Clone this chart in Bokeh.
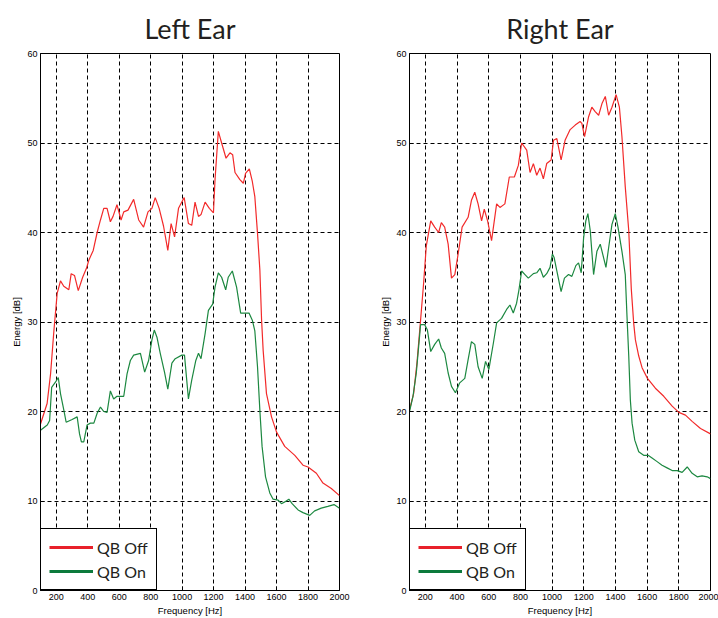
from bokeh.plotting import figure
from bokeh.layouts import row
from bokeh.models import FixedTicker, Legend, LegendItem, Range1d
from bokeh.embed import file_html
from bokeh.resources import INLINE

# ---------------- data ----------------
left_off_freq = [100, 142, 164, 185, 206, 227, 248, 280, 295, 316, 340, 368, 392, 407, 435, 460, 481, 502, 523, 544,
                 561, 586, 612, 629, 656, 692, 724, 755, 783, 808, 829, 854, 882, 909, 930, 952, 977, 1013, 1040, 1061,
                 1082, 1104, 1120, 1146, 1173, 1199, 1209, 1230, 1251, 1279, 1304, 1321, 1336, 1367, 1389, 1403, 1427,
                 1446, 1462, 1479, 1494, 1505, 1515, 1536, 1568, 1600, 1652, 1716, 1768, 1800, 1853, 1895, 1948, 2000]
left_off_db = [18.6, 20.9, 24.2, 29.0, 33.2, 34.6, 34.0, 33.6, 35.4, 35.2, 33.5, 35.0, 36.0, 36.9, 38.0, 40.0, 41.4,
               42.7, 42.7, 41.2, 41.8, 43.1, 41.4, 42.3, 42.5, 43.7, 41.4, 40.6, 42.3, 42.7, 43.9, 42.7, 40.7, 38.0,
               41.0, 39.5, 42.7, 43.9, 41.0, 40.8, 43.4, 41.8, 42.0, 43.4, 42.7, 42.2, 45.9, 51.3, 50.0, 48.3, 48.9,
               48.7, 46.7, 45.9, 45.5, 46.6, 47.1, 45.7, 44.0, 39.9, 35.8, 30.2, 26.8, 22.0, 19.4, 17.7, 16.1, 15.1,
               14.0, 13.8, 13.1, 12.0, 11.4, 10.6]

left_on_freq = [100, 143, 158, 171, 196, 213, 227, 249, 263, 301, 333, 348, 360, 375, 396, 417, 439, 460, 481, 502,
                523, 544, 565, 586, 629, 650, 671, 692, 735, 762, 787, 808, 823, 840, 861, 888, 909, 935, 956, 998,
                1015, 1040, 1061, 1087, 1104, 1120, 1146, 1167, 1194, 1209, 1230, 1251, 1277, 1293, 1319, 1346, 1372,
                1399, 1425, 1446, 1462, 1479, 1494, 1508, 1530, 1557, 1578, 1610, 1631, 1652, 1678, 1699, 1737, 1768,
                1811, 1842, 1884, 1926, 1965, 2000]
left_on_db = [17.9, 18.5, 19.0, 22.7, 23.3, 23.8, 22.0, 20.1, 18.8, 19.1, 19.4, 17.5, 16.6, 16.6, 18.5, 18.7, 18.7,
              19.8, 20.5, 20.0, 19.9, 22.3, 21.4, 21.7, 21.7, 24.2, 25.7, 26.3, 26.5, 24.4, 25.7, 28.0, 29.1, 28.3,
              26.5, 24.4, 22.5, 25.4, 25.9, 26.3, 26.3, 21.4, 23.5, 25.7, 26.5, 25.9, 28.7, 31.3, 32.0, 33.9, 35.5,
              35.0, 33.6, 35.0, 35.7, 33.9, 31.0, 31.0, 31.0, 30.2, 29.0, 25.0, 20.1, 16.1, 12.7, 10.9, 10.2, 10.1,
              9.7, 9.9, 10.2, 9.7, 9.0, 8.7, 8.4, 8.9, 9.2, 9.4, 9.6, 9.2]

right_off_freq = [100, 126, 147, 168, 189, 206, 234, 259, 284, 301, 322, 344, 365, 386, 407, 432, 470, 491, 512, 533,
                  555, 572, 593, 618, 650, 671, 702, 730, 762, 787, 808, 840, 861, 882, 903, 924, 945, 966, 994, 1009,
                  1030, 1057, 1082, 1114, 1146, 1177, 1188, 1205, 1230, 1251, 1272, 1294, 1315, 1336, 1357, 1378,
                  1404, 1425, 1441, 1462, 1484, 1500, 1515, 1526, 1547, 1568, 1602, 1652, 1705, 1758, 1800, 1842,
                  1884, 1937, 2000]
right_off_db = [20.2, 22.0, 25.4, 29.8, 34.3, 38.5, 41.3, 40.6, 40.0, 41.1, 40.6, 38.7, 34.9, 35.3, 37.6, 40.6, 41.7,
                43.6, 44.5, 43.2, 41.3, 42.6, 41.3, 39.1, 43.2, 42.8, 43.2, 46.2, 46.2, 47.5, 50.0, 49.2, 46.7, 47.7,
                46.4, 47.2, 46.0, 47.7, 48.1, 50.3, 50.5, 48.1, 50.3, 51.5, 52.0, 52.4, 52.2, 50.7, 52.9, 54.0, 53.5,
                53.1, 54.4, 55.2, 53.1, 54.0, 55.4, 54.0, 50.7, 45.1, 40.2, 33.7, 29.9, 28.0, 26.2, 24.9, 23.7, 22.6,
                21.7, 20.6, 19.9, 19.6, 18.9, 18.1, 17.5]

right_on_freq = [100, 122, 143, 158, 170, 196, 213, 234, 259, 284, 301, 322, 344, 365, 390, 417, 449, 470, 491, 512,
                 533, 559, 580, 601, 629, 650, 681, 713, 734, 755, 776, 791, 808, 829, 850, 882, 903, 924, 945, 966,
                 987, 1002, 1013, 1030, 1057, 1078, 1104, 1125, 1150, 1167, 1184, 1199, 1213, 1226, 1241, 1262, 1283,
                 1304, 1325, 1340, 1357, 1378, 1399, 1416, 1441, 1462, 1473, 1484, 1494, 1505, 1522, 1547, 1578, 1606,
                 1631, 1663, 1694, 1726, 1758, 1790, 1821, 1853, 1884, 1916, 1947, 1979, 2000]
right_on_db = [20.0, 21.7, 24.3, 27.3, 29.7, 29.7, 29.1, 26.7, 27.5, 28.1, 27.1, 26.5, 24.3, 22.8, 22.1, 23.2, 23.7,
               25.8, 27.8, 27.5, 25.0, 23.7, 25.6, 24.7, 27.6, 29.9, 30.4, 31.4, 31.9, 31.0, 32.1, 33.6, 35.7, 35.3,
               34.9, 35.4, 35.5, 36.0, 35.0, 35.4, 36.1, 37.6, 37.2, 35.7, 33.4, 34.9, 35.3, 35.1, 36.3, 36.6, 35.5,
               39.4, 41.3, 42.1, 40.2, 35.3, 37.9, 38.7, 37.2, 36.1, 38.3, 40.9, 42.1, 40.6, 37.9, 35.3, 30.6, 26.2,
               21.3, 18.7, 16.8, 15.5, 15.1, 15.1, 14.8, 14.4, 14.0, 13.7, 13.4, 13.4, 13.2, 13.8, 13.1, 12.7, 12.8,
               12.7, 12.5]

x_ticks = [200, 400, 600, 800, 1000, 1200, 1400, 1600, 1800, 2000]
y_ticks = [0, 10, 20, 30, 40, 50, 60]
series_labels = ["QB Off", "QB On"]
titles = ["Left Ear", "Right Ear"]

RED = "#f22a2a"
GREEN = "#1c8840"
RED_LEG = "#e8202a"
GREEN_LEG = "#0c7a3c"

TICK_FONT = "Liberation Sans"


def make_panel(title, off_f, off_v, on_f, on_v, width, left, right):
    p = figure(width=width, height=618, output_backend="svg", toolbar_location=None,
               x_range=Range1d(100, 2000), y_range=Range1d(0, 60),
               min_border_left=left, min_border_right=right, min_border_top=53, min_border_bottom=28,
               title=title)
    p.title.text_font = "Lato"
    p.title.text_font_size = "27px"
    p.title.text_font_style = "normal"
    p.title.align = "center"
    p.title.text_color = "#231f20"
    p.title.standoff = 17

    p.outline_line_color = "black"
    p.outline_line_width = 1
    p.outline_line_alpha = 1

    for ax in (p.xaxis[0], p.yaxis[0]):
        ax.major_label_text_font = TICK_FONT
        ax.major_label_text_font_size = "9px"
        ax.major_label_text_color = "black"
        ax.axis_label_text_font = TICK_FONT
        ax.axis_label_text_font_size = "9.5px"
        ax.axis_label_text_font_style = "normal"
        ax.axis_label_text_color = "black"
        ax.major_tick_in = 4
        ax.major_tick_out = 0
        ax.minor_tick_in = 0
        ax.minor_tick_out = 0
        ax.axis_line_color = "black"
        ax.major_tick_line_color = "black"
        ax.axis_label_standoff = 2
        ax.major_label_standoff = 3

    p.xaxis[0].ticker = FixedTicker(ticks=x_ticks)
    p.yaxis[0].ticker = FixedTicker(ticks=y_ticks)
    p.xaxis[0].axis_label = "Frequency [Hz]"
    p.yaxis[0].axis_label = "Energy [dB]"

    p.xgrid[0].ticker = FixedTicker(ticks=x_ticks)
    p.ygrid[0].ticker = FixedTicker(ticks=y_ticks)
    for g in (p.xgrid[0], p.ygrid[0]):
        g.grid_line_color = "black"
        g.grid_line_dash = "4 3"
        g.grid_line_width = 1
        g.grid_line_alpha = 1

    p.line(off_f, off_v, line_color=RED, line_width=1.2)
    p.line(on_f, on_v, line_color=GREEN, line_width=1.2)

    # legend swatches: thick lines, drawn outside the visible range
    leg_off = p.line([-1000, -900], [-10, -10], line_color=RED_LEG, line_width=3)
    leg_on = p.line([-1000, -900], [-10, -10], line_color=GREEN_LEG, line_width=3)
    legend = Legend(items=[LegendItem(label=series_labels[0], renderers=[leg_off]),
                           LegendItem(label=series_labels[1], renderers=[leg_on])],
                    location="bottom_left")
    legend.margin = 0
    legend.padding = 8
    legend.spacing = 4
    legend.glyph_width = 44
    legend.glyph_height = 20
    legend.label_standoff = 4
    legend.label_text_font = "Lato"
    legend.label_text_font_size = "16px"
    legend.label_text_color = "#231f20"
    legend.border_line_color = "black"
    legend.border_line_width = 1.5
    legend.border_line_alpha = 1
    legend.background_fill_color = "white"
    legend.background_fill_alpha = 1
    p.add_layout(legend)
    return p


p1 = make_panel(titles[0], left_off_freq, left_off_db, left_on_freq, left_on_db, 359, 40, 20)
p2 = make_panel(titles[1], right_off_freq, right_off_db, right_on_freq, right_on_db, 359, 50, 8)

layout = row(p1, p2)
open("out.html", "w").write(file_html(layout, INLINE))
